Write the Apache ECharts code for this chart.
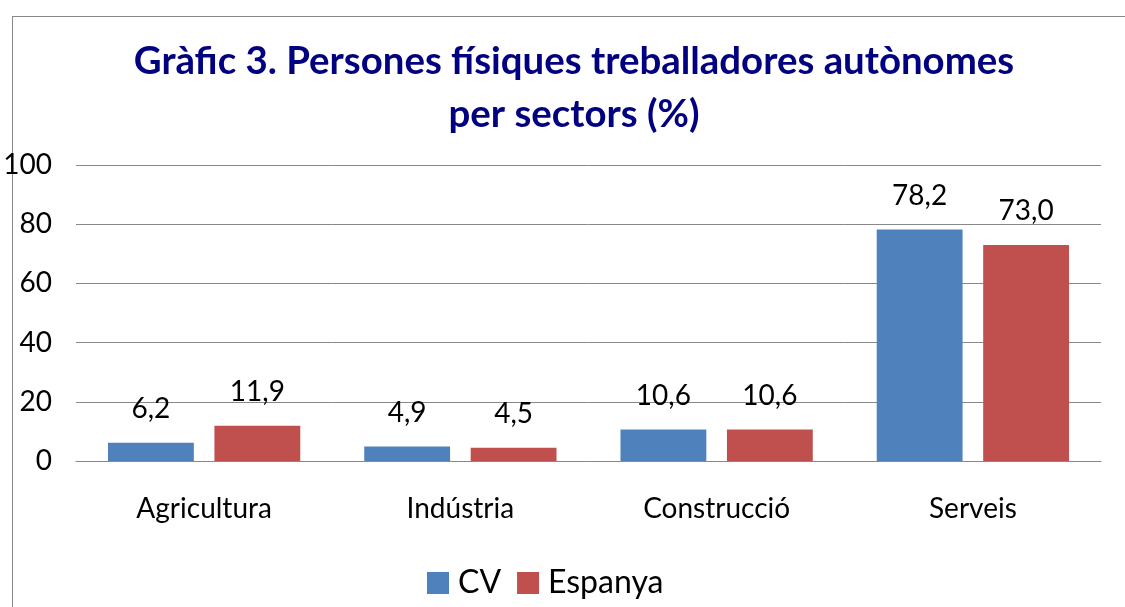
<!DOCTYPE html>
<html>
<head>
<meta charset="utf-8">
<script src="https://cdn.jsdelivr.net/npm/echarts@6/dist/echarts.min.js"></script>
<style>
  html, body { margin: 0; padding: 0; background: #fff; }
  #frame { position: absolute; left: 12px; top: 16px; width: 1113px; height: 591px;
           border-left: 1px solid #888; border-top: 1px solid #888; }
  #chart { position: absolute; left: 0; top: 0; width: 1125px; height: 607px; }
</style>
</head>
<body>
<div id="frame"></div>
<div id="chart"></div>
<script>
  // dades del gràfic
  let categories = ['Agricultura', 'Indústria', 'Construcció', 'Serveis']
  let cvValues = [6.2, 4.9, 10.6, 78.2]
  let espanyaValues = [11.9, 4.5, 10.6, 73.0]
  let seriesNames = ['CV', 'Espanya']
  let colors = ['#4F81BD', '#C0504D']

  let font = 'Lato'
  let chart = echarts.init(document.getElementById('chart'))

  let labelFmt = function (p) {
    return p.value.toFixed(1).replace('.', ',')
  }

  let barLabel = {
    show: true,
    position: 'top',
    distance: 20,
    formatter: labelFmt,
    fontFamily: font,
    fontSize: 28,
    color: '#000'
  }

  let option = {
    animation: false,
    color: colors,
    title: {
      text: 'Gràfic 3. Persones físiques treballadores autònomes\nper sectors (%)',
      left: 569,
      top: 30,
      textAlign: 'center',
      textStyle: {
        color: '#000080',
        fontFamily: font,
        fontWeight: 'bold',
        fontSize: 38.4,
        lineHeight: 53
      }
    },
    legend: {
      bottom: 3,
      left: 422,
      itemWidth: 22,
      itemHeight: 22,
      itemGap: 16,
      icon: 'rect',
      textStyle: { fontFamily: font, fontSize: 32, color: '#000', padding: [0, 0, 0, 4] },
      data: seriesNames
    },
    grid: { left: 76, right: 24, top: 165, bottom: 146 },
    xAxis: {
      type: 'category',
      data: categories,
      axisTick: { show: false },
      axisLine: { lineStyle: { color: '#888', width: 1 } },
      axisLabel: { margin: 34, fontFamily: font, fontSize: 28, color: '#000' }
    },
    yAxis: {
      type: 'value',
      min: 0,
      max: 100,
      interval: 20,
      axisLine: { show: false },
      axisTick: { show: false },
      splitLine: { lineStyle: { color: '#888', width: 1 } },
      axisLabel: { margin: 24, fontFamily: font, fontSize: 28, color: '#000' }
    },
    series: [
      {
        name: seriesNames[0],
        type: 'bar',
        data: cvValues,
        barWidth: '33.5%',
        barGap: '24%',
        label: barLabel
      },
      {
        name: seriesNames[1],
        type: 'bar',
        data: espanyaValues,
        barWidth: '33.5%',
        barGap: '24%',
        label: barLabel
      }
    ]
  }

  chart.setOption(option)
</script>
</body>
</html>
